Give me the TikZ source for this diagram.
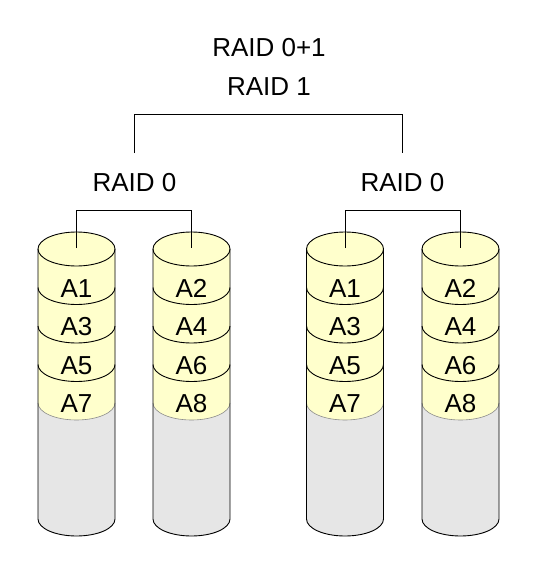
\documentclass[tikz,border=0pt]{standalone}
\usepackage{fontspec}
\setmainfont{Liberation Sans}
\definecolor{diskyellow}{RGB}{255,255,204}
\definecolor{diskgray}{RGB}{230,230,230}
\tikzset{
  lbl/.style={font=\fontsize{26}{30}\selectfont, inner sep=0pt, anchor=base},
  edge/.style={draw=black, line width=0.9pt},
  link/.style={draw=black, line width=0.9pt},
  fadeedge/.style={draw=black!45, line width=0.6pt},
  halfell/.style={},
}
\newcommand\drawdisk[6]{%
  \begin{scope}[shift={(#2,0)}]
    \fill[diskgray] (-38.5,-249) -- (-38.5,-519)
      arc[start angle=180,end angle=360,x radius=38.5,y radius=17] -- (38.5,-249) -- cycle;
    \fill[diskyellow] (-38.5,-403)
      arc[start angle=180,end angle=360,x radius=38.5,y radius=17] -- (38.5,-249)
      arc[start angle=0,end angle=180,x radius=38.5,y radius=17] -- cycle;
    \draw[fadeedge] (-38.5,-403) arc[start angle=180,end angle=360,x radius=38.5,y radius=17];
    \foreach \yy in {-287.5,-326,-364.5}
      \draw[edge] (-38.5,\yy) arc[start angle=180,end angle=360,x radius=38.5,y radius=17];
    \draw[edge] (0,-249) ellipse[x radius=38.5,y radius=17];
    \draw[edge] (-38.5,-249) -- (-38.5,-519)
      arc[start angle=180,end angle=360,x radius=38.5,y radius=17] -- (38.5,-249);
    \coordinate (#1) at (0,-248);
    \node[lbl] (#1a) at (0,-297.3) {#3};
    \node[lbl] (#1b) at (0,-335.8) {#4};
    \node[lbl] (#1c) at (0,-374.3) {#5};
    \node[lbl] (#1d) at (0,-412.8) {#6};
  \end{scope}
}
\begin{document}
\begin{tikzpicture}[x=1pt,y=1pt]
  \useasboundingbox (0,0) rectangle (537,-575);
  \node[lbl] (raid01) at (269,-56.7) {RAID 0+1};
  \node[lbl] (raid1) at (269,-96) {RAID 1};
  \node[lbl] (r0a) at (134.5,-191.5) {RAID 0};
  \node[lbl] (r0b) at (402.5,-191.5) {RAID 0};

  \drawdisk{d1}{76.5}{A1}{A3}{A5}{A7}
  \drawdisk{d2}{191.5}{A2}{A4}{A6}{A8}
  \drawdisk{d3}{345}{A1}{A3}{A5}{A7}
  \drawdisk{d4}{460.5}{A2}{A4}{A6}{A8}

  \coordinate (bartop) at (0,-114);
  \coordinate (barlow) at (0,-153);
  \coordinate (bar0) at (0,-210.5);
  \draw[link] (r0a |- barlow) -- (r0a |- bartop) -- (r0b |- bartop) -- (r0b |- barlow);
  \draw[link] (d1) -- (d1 |- bar0) -- (d2 |- bar0) -- (d2);
  \draw[link] (d3) -- (d3 |- bar0) -- (d4 |- bar0) -- (d4);
\end{tikzpicture}
\end{document}
